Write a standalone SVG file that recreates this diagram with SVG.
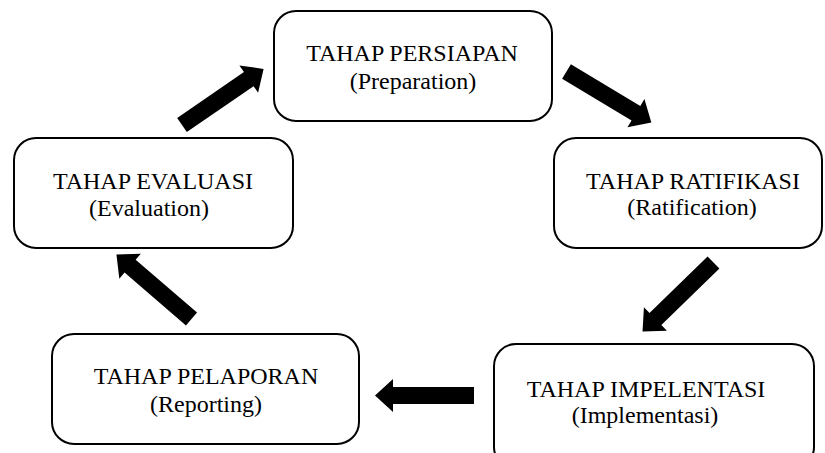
<svg xmlns="http://www.w3.org/2000/svg" xmlns:xlink="http://www.w3.org/1999/xlink" width="825" height="453" viewBox="0 0 825 453">
  <style>
    .box { fill: #ffffff; stroke: #000000; stroke-width: 2; }
    .label { font-size: 24px; fill: #000000; text-anchor: middle; }
    .arrow { fill: #000000; }
  </style>
  <defs>
    <!-- block arrow pointing along +x, origin at tail centre -->
    <polygon id="blockArrow" points="0,-8.5 81,-8.5 81,-16.5 99,0 81,16.5 81,8.5 0,8.5"/>
  </defs>
  <rect width="825" height="453" fill="#ffffff"/>

  <g id="connectors" class="arrow">
    <use xlink:href="#blockArrow" transform="translate(182,125) rotate(-34.5)"/>
    <use xlink:href="#blockArrow" transform="translate(566.5,71.5) rotate(31)"/>
    <use xlink:href="#blockArrow" transform="translate(713.5,262.5) rotate(135.8)"/>
    <use xlink:href="#blockArrow" transform="translate(474,395.5) rotate(180)"/>
    <use xlink:href="#blockArrow" transform="translate(191.5,319) rotate(220.7)"/>
  </g>

  <g font-family="Liberation Serif, Times New Roman, serif">
    <g id="preparation">
      <rect class="box" x="274" y="11" width="278" height="110" rx="22"/>
      <text class="label" x="412" y="61">TAHAP PERSIAPAN</text>
      <text class="label" x="413" y="89">(Preparation)</text>
    </g>

    <g id="ratification">
      <rect class="box" x="554" y="138" width="268" height="110" rx="22"/>
      <text class="label" x="693" y="189">TAHAP RATIFIKASI</text>
      <text class="label" x="692" y="215">(Ratification)</text>
    </g>

    <g id="evaluation">
      <rect class="box" x="14" y="138" width="279" height="110" rx="22"/>
      <text class="label" x="153" y="189">TAHAP EVALUASI</text>
      <text class="label" x="149" y="216">(Evaluation)</text>
    </g>

    <g id="reporting">
      <rect class="box" x="52" y="334" width="307" height="110" rx="22"/>
      <text class="label" x="206" y="384">TAHAP PELAPORAN</text>
      <text class="label" x="206" y="412">(Reporting)</text>
    </g>

    <g id="implementation">
      <rect class="box" x="494" y="344" width="320" height="125" rx="22"/>
      <text class="label" x="646" y="397">TAHAP IMPELENTASI</text>
      <text class="label" x="645" y="423">(Implementasi)</text>
    </g>
  </g>
</svg>
